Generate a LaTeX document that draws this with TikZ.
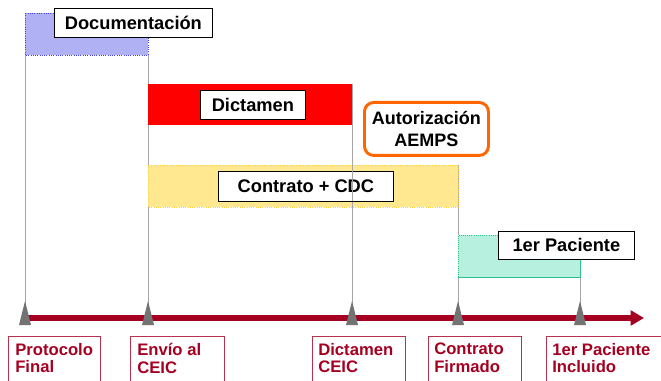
\documentclass[tikz,border=0pt]{standalone}
\usepackage{fontspec}
\setmainfont{Liberation Sans}
\usetikzlibrary{arrows.meta,calc}
\definecolor{axisred}{HTML}{A50021}
\definecolor{docblue}{HTML}{B0B0F4}
\definecolor{docedge}{HTML}{4040F0}
\definecolor{dictred}{HTML}{FF0000}
\definecolor{contyel}{HTML}{FFE890}
\definecolor{contedge}{HTML}{FFD040}
\definecolor{pacteal}{HTML}{B8F0E0}
\definecolor{pacedge}{HTML}{30C090}
\definecolor{aorange}{HTML}{FF6600}
\tikzset{
  lbl/.style={draw=black, fill=white, line width=0.6pt, font=\bfseries\fontsize{13.7}{15}\selectfont, inner sep=0pt, anchor=north west},
  vline/.style={draw=gray!70, line width=0.6pt},
  tick/.style={fill=gray!90!black, draw=none},
  mbox/.style={draw=axisred!80, line width=0.6pt},
  mtext/.style={text=axisred, font=\bfseries\fontsize{12.5}{13.2}\selectfont, align=left, anchor=north west, inner sep=0pt}
}
\begin{document}
\begin{tikzpicture}[x=0.75pt,y=-0.75pt]
\useasboundingbox (0,0) rectangle (661,381);
\clip (0,0) rectangle (661,381);
% vertical lines
\coordinate (p1) at (25,318); \coordinate (p2) at (148,318); \coordinate (p3) at (352,318);
\coordinate (p4) at (458,318); \coordinate (p5) at (580,318);
\draw[vline] (25,13) -- (p1);
\draw[vline] (148,55) -- (p2);
\draw[vline] (352,84) -- (p3);
\draw[vline] (458,165) -- (p4);
\draw[vline] (580,235) -- (p5);
% bars
\fill[docblue] (25,13) rectangle (148,55);
\draw[docedge, densely dotted, line width=0.7pt] (25,13) rectangle (148,55);
\fill[dictred] (148,84) rectangle (352,125);
\fill[contyel] (148,165) rectangle (458,207);
\draw[contedge, densely dotted, line width=0.7pt] (148,165) rectangle (458,207);
\draw[vline] (352,165) -- (352,207);
\fill[pacteal] (458,235) rectangle (580,277);
\draw[pacedge, line width=0.6pt] (458,277) -- (580,277) -- (580,235);
\draw[pacedge, densely dotted, line width=0.6pt] (458,277) -- (458,235) -- (580,235);
% labels
\node[lbl, minimum width=158*0.75pt, minimum height=29*0.75pt] (doc) at (54,8) {Documentación};
\node[lbl, minimum width=105*0.75pt, minimum height=29*0.75pt] (dic) at (200,90) {Dictamen};
\node[lbl, minimum width=175*0.75pt, minimum height=30*0.75pt] (con) at (218,171) {Contrato + CDC};
\draw[vline] (352,171) -- (352,201);
\node[lbl, minimum width=136*0.75pt, minimum height=28*0.75pt] (pac) at (498,231) {1er Paciente};
\node[draw=aorange, line width=2.2pt, rounded corners=7pt, minimum width=124*0.75pt, minimum height=53*0.75pt, align=center, font=\bfseries\fontsize{13.5}{16}\selectfont, inner sep=0pt, anchor=north west] (aemps) at (363,101) {Autorización\\AEMPS};
% axis
\draw[axisred, line width=3.8pt, -{Triangle[length=10pt,width=11pt]}] (25,318) -- (644,318);
% ticks
\foreach \p in {p1,p2,p3,p4,p5} {
  \fill[tick] ($(\p)+(-6,7)$) -- ($(\p)+(0,-17)$) -- ($(\p)+(6,7)$) -- cycle;
}
% milestones
\draw[mbox] (8,336) rectangle (100,395);
\draw[mbox] (130,336) rectangle (224,395);
\draw[mbox] (312,336) rectangle (405,395);
\draw[mbox] (428,336) rectangle (521,395);
\draw[mbox] (546,336) rectangle (670,395);
\node[mtext] (m1) at (15,343) {Protocolo\\Final};
\node[mtext] (m2) at (137,343) {Envío al\\CEIC};
\node[mtext] (m3) at (318,343) {Dictamen\\CEIC};
\node[mtext] (m4) at (434,343) {Contrato\\Firmado};
\node[mtext] (m5) at (552,343) {1er Paciente\\Incluido};
\end{tikzpicture}
\end{document}
